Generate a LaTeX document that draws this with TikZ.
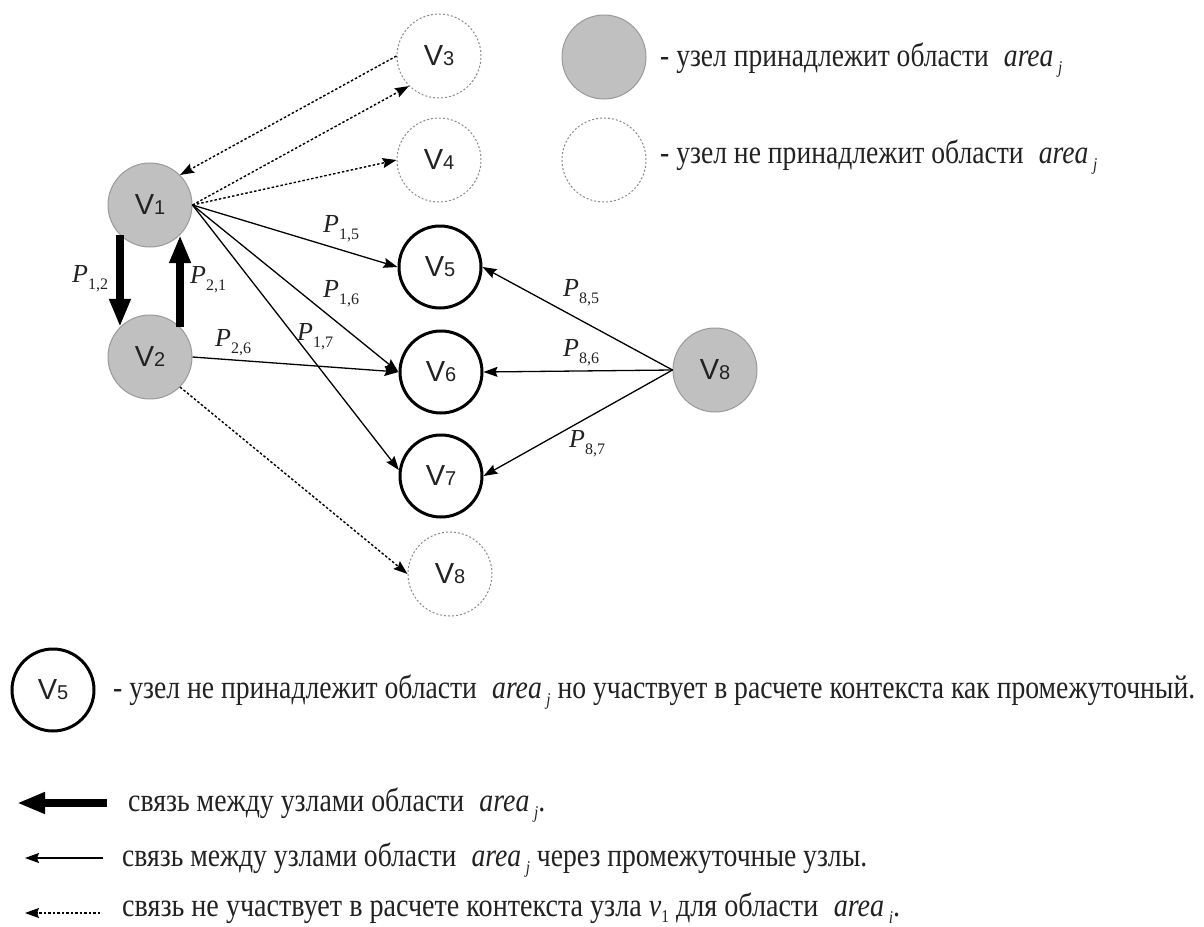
\documentclass[tikz,border=0pt]{standalone}
\usepackage{fontspec}
\usepackage{graphicx}
\setmainfont{Liberation Serif}
\newfontfamily\labfont{Liberation Sans}
\usetikzlibrary{arrows.meta}

\definecolor{nodegray}{HTML}{C0C0C0}
\definecolor{rimgray}{HTML}{9A9A9A}
\definecolor{inkc}{HTML}{222222}
\definecolor{dotgray}{HTML}{8A8A8A}

% vertex name: sans V with a small index
\newcommand\vname[1]{{\labfont\fontsize{29}{29}\selectfont V\fontsize{20}{20}\selectfont #1}}
% edge weight P_{i,j}
\newcommand\pname[2]{{\fontsize{26}{26}\selectfont\itshape P}\raisebox{-7pt}{\fontsize{16}{16}\selectfont #1,#2}}
% italic "area" with a lowered index
\newcommand\areasub[1]{\hspace{0.3em}{\itshape area}\,\raisebox{-7pt}{\fontsize{18}{18}\selectfont\itshape #1}}
% legend line squeezed to a given width
\newcommand\legline[2]{\resizebox{#1}{\height}{\fontsize{33}{36}\selectfont #2}}

\begin{document}
\begin{tikzpicture}[x=1pt,y=-1pt,
  every node/.style={text=inkc},
  inarea/.style={circle,minimum size=84pt,inner sep=0pt,fill=nodegray,draw=rimgray,line width=1pt},
  outarea/.style={circle,minimum size=84pt,inner sep=0pt,draw=dotgray,line width=1pt,dash pattern=on 2pt off 2pt},
  relay/.style={circle,minimum size=82pt,inner sep=0pt,draw=black,line width=3pt},
  arealink/.style={-{Triangle[length=28pt,width=20pt]},line width=8pt},
  viarelay/.style={-{Stealth[length=14pt,width=10pt,inset=2pt]},line width=1.3pt},
  skiplink/.style={-{Stealth[length=14pt,width=10pt,inset=2pt]},line width=1.4pt,dash pattern=on 2.5pt off 2pt},
  wlabel/.style={anchor=base west,inner sep=0pt},
  legtext/.style={anchor=base west,inner sep=0pt}]
\useasboundingbox (0,0) rectangle (1204,926);

% graph vertices
\node[inarea]  (v1)  at (150,205) {\vname{1}};
\node[inarea]  (v2)  at (150,357) {\vname{2}};
\node[outarea] (v3)  at (439,56)  {\vname{3}};
\node[outarea] (v4)  at (439,160) {\vname{4}};
\node[relay]   (v5)  at (440,267) {\vname{5}};
\node[relay]   (v6)  at (441,372) {\vname{6}};
\node[relay]   (v7)  at (441,476) {\vname{7}};
\node[inarea]  (v8)  at (715,370) {\vname{8}};
\node[outarea] (v8o) at (450,574) {\vname{8}};

% links inside the area
\draw[arealink] (v1.-135) -- (v2.135);
\draw[arealink] (v2.45) -- (v1.-45);

% links through intermediate vertices
\draw[viarelay] (v1.east) -- (v5.west);
\draw[viarelay] (v1.east) -- (v6.west);
\draw[viarelay] (v1.east) -- (v7.172);
\draw[viarelay] (v2.east) -- (v6.west);
\draw[viarelay] (v8.west) -- (v5.east);
\draw[viarelay] (v8.west) -- (v6.east);
\draw[viarelay] (v8.west) -- (v7.east);

% links left out of the context
\draw[skiplink] (v3.west) -- (v1.45);
\draw[skiplink] (v1.east) -- (v3.-135);
\draw[skiplink] (v1.east) -- (v4.west);
\draw[skiplink] (v2.-45) -- (v8o.west);

% weights
\node[wlabel] (p15) at (323,232) {\pname{1}{5}};
\node[wlabel] (p16) at (323,297) {\pname{1}{6}};
\node[wlabel] (p17) at (297,340) {\pname{1}{7}};
\node[wlabel] (p12) at (72,282)  {\pname{1}{2}};
\node[wlabel] (p21) at (190,283) {\pname{2}{1}};
\node[wlabel] (p26) at (215,346) {\pname{2}{6}};
\node[wlabel] (p85) at (563,296) {\pname{8}{5}};
\node[wlabel] (p86) at (563,356) {\pname{8}{6}};
\node[wlabel] (p87) at (569,447) {\pname{8}{7}};

% legend: vertex kinds
\node[inarea]  (kin)  at (604,57)  {};
\node[outarea] (kout) at (604,160) {};
\node[legtext] (tin)  at (660,66)  {\legline{402pt}{- узел принадлежит области \areasub{j}}};
\node[legtext] (tout) at (660,163) {\legline{437pt}{- узел не принадлежит области \areasub{j}}};

\node[relay] (krel) at (53,690) {\vname{5}};
\node[legtext] (trel) at (113,698) {\legline{1082pt}{- узел не принадлежит области \areasub{j} но участвует в расчете контекста как промежуточный.}};

% legend: link kinds
\coordinate (a1s) at (107,803); \coordinate (a1e) at (17,803);
\coordinate (a2s) at (103,858); \coordinate (a2e) at (25,858);
\coordinate (a3s) at (100,913); \coordinate (a3e) at (25,913);
\draw[arealink] (a1s) -- (a1e);
\draw[viarelay] (a2s) -- (a2e);
\draw[skiplink] (a3s) -- (a3e);
\node[legtext] (t1) at (128,811) {\legline{417pt}{связь между узлами области \areasub{j}.}};
\node[legtext] (t2) at (122,866) {\legline{745pt}{связь между узлами области \areasub{j} через промежуточные узлы.}};
\node[legtext] (t3) at (122,916) {\legline{778pt}{связь не участвует в расчете контекста узла {\itshape v}\raisebox{-6pt}{\fontsize{18}{18}\selectfont 1} для области \areasub{i}.}};
\end{tikzpicture}
\end{document}
